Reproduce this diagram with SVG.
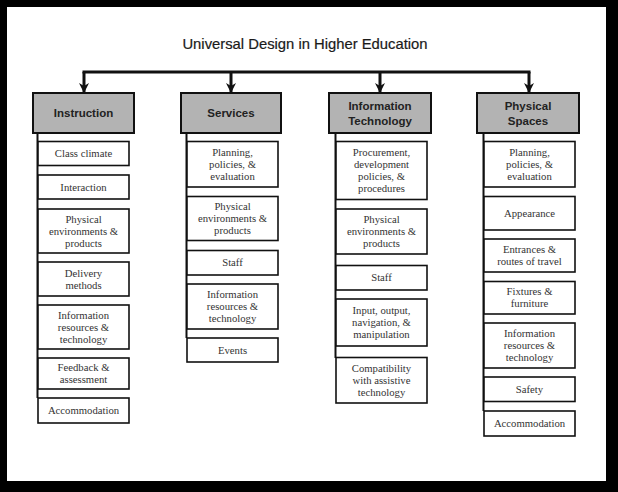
<svg xmlns="http://www.w3.org/2000/svg" width="618" height="492" viewBox="0 0 618 492">
<defs>
<style>
.hdr rect{fill:#b3b3b3;stroke:#111;stroke-width:2}
.hdr text{font-family:"Liberation Sans",Arial,sans-serif;font-weight:bold;font-size:11.5px;fill:#222;text-anchor:middle}
.box rect{fill:#fff;stroke:#111;stroke-width:1.6}
.box text{font-family:"Liberation Serif","Times New Roman",serif;font-size:10.7px;fill:#333;text-anchor:middle}
.conn{stroke:#111;fill:none}
.title{font-family:"Liberation Sans",Arial,sans-serif;font-size:14.8px;fill:#1a1a1a;text-anchor:middle;stroke:#1a1a1a;stroke-width:0.2}
</style>
<marker id="arr" viewBox="0 0 12 12" refX="11" refY="6" markerWidth="12" markerHeight="12" markerUnits="userSpaceOnUse" orient="auto">
<path d="M1,1 L11,6 L1,11 L4,6 z" fill="#111"/>
</marker>
</defs>
<rect x="0" y="0" width="618" height="492" fill="#000"/>
<rect x="7" y="7" width="599" height="474" fill="#fff"/>
<text class="title" x="305" y="49">Universal Design in Higher Education</text>

<g id="connectors">
<path class="conn" stroke-width="3" stroke-linecap="square" d="M84,72 H529"/>
<line class="conn" stroke-width="3" x1="84" y1="72" x2="84" y2="93" marker-end="url(#arr)"/>
<line class="conn" stroke-width="3" x1="231" y1="72" x2="231" y2="93" marker-end="url(#arr)"/>
<line class="conn" stroke-width="3" x1="380" y1="72" x2="380" y2="93" marker-end="url(#arr)"/>
<line class="conn" stroke-width="3" x1="529" y1="72" x2="529" y2="93" marker-end="url(#arr)"/>
<line class="conn" stroke-width="2" x1="37.5" y1="133" x2="37.5" y2="398"/>
<line class="conn" stroke-width="2" x1="186.5" y1="133" x2="186.5" y2="338"/>
<line class="conn" stroke-width="2" x1="335.5" y1="133" x2="335.5" y2="358"/>
<line class="conn" stroke-width="2" x1="483.5" y1="133" x2="483.5" y2="411"/>
</g>

<g id="instruction" class="hdr"><rect x="33" y="93" width="101" height="40"/><text x="83.5" y="117">Instruction</text></g>
<g id="services" class="hdr"><rect x="181" y="93" width="100" height="40"/><text x="231" y="117">Services</text></g>
<g id="information-technology" class="hdr"><rect x="329" y="93" width="102" height="40"/><text x="380" y="110">Information</text><text x="380" y="125">Technology</text></g>
<g id="physical-spaces" class="hdr"><rect x="477" y="93" width="102" height="40"/><text x="528" y="110">Physical</text><text x="528" y="125">Spaces</text></g>

<g id="i-class-climate" class="box"><rect x="38" y="141.5" width="91" height="24"/><text x="83.5" y="157">Class climate</text></g>
<g id="i-interaction" class="box"><rect x="38" y="175" width="91" height="24"/><text x="83.5" y="190.5">Interaction</text></g>
<g id="i-physical" class="box"><rect x="38" y="209" width="91" height="44"/><text x="83.5" y="222.5">Physical</text><text x="83.5" y="234.5">environments &amp;</text><text x="83.5" y="246.5">products</text></g>
<g id="i-delivery" class="box"><rect x="38" y="262" width="91" height="34"/><text x="83.5" y="276.5">Delivery</text><text x="83.5" y="288.5">methods</text></g>
<g id="i-info" class="box"><rect x="38" y="305" width="91" height="44"/><text x="83.5" y="318.5">Information</text><text x="83.5" y="330.5">resources &amp;</text><text x="83.5" y="342.5">technology</text></g>
<g id="i-feedback" class="box"><rect x="38" y="358" width="91" height="31"/><text x="83.5" y="371">Feedback &amp;</text><text x="83.5" y="383">assessment</text></g>
<g id="i-accommodation" class="box"><rect x="38" y="398" width="91" height="25"/><text x="83.5" y="414">Accommodation</text></g>

<g id="s-planning" class="box"><rect x="187" y="141.5" width="91" height="45.5"/><text x="232.5" y="155.8">Planning,</text><text x="232.5" y="167.8">policies, &amp;</text><text x="232.5" y="179.8">evaluation</text></g>
<g id="s-physical" class="box"><rect x="187" y="196.5" width="91" height="44"/><text x="232.5" y="210">Physical</text><text x="232.5" y="222">environments &amp;</text><text x="232.5" y="234">products</text></g>
<g id="s-staff" class="box"><rect x="187" y="250.5" width="91" height="24.5"/><text x="232.5" y="266.3">Staff</text></g>
<g id="s-info" class="box"><rect x="187" y="284" width="91" height="45"/><text x="232.5" y="298">Information</text><text x="232.5" y="310">resources &amp;</text><text x="232.5" y="322">technology</text></g>
<g id="s-events" class="box"><rect x="187" y="338" width="91" height="24"/><text x="232.5" y="353.5">Events</text></g>

<g id="t-procurement" class="box"><rect x="336" y="141.5" width="91" height="58"/><text x="381.5" y="156">Procurement,</text><text x="381.5" y="168">development</text><text x="381.5" y="180">policies, &amp;</text><text x="381.5" y="192">procedures</text></g>
<g id="t-physical" class="box"><rect x="336" y="209" width="91" height="45"/><text x="381.5" y="223">Physical</text><text x="381.5" y="235">environments &amp;</text><text x="381.5" y="247">products</text></g>
<g id="t-staff" class="box"><rect x="336" y="265.5" width="91" height="24.5"/><text x="381.5" y="281.3">Staff</text></g>
<g id="t-input" class="box"><rect x="336" y="299" width="91" height="47"/><text x="381.5" y="314">Input, output,</text><text x="381.5" y="326">navigation, &amp;</text><text x="381.5" y="338">manipulation</text></g>
<g id="t-compat" class="box"><rect x="336" y="357.5" width="91" height="45.5"/><text x="381.5" y="371.8">Compatibility</text><text x="381.5" y="383.8">with assistive</text><text x="381.5" y="395.8">technology</text></g>

<g id="p-planning" class="box"><rect x="484" y="141.5" width="91" height="45.5"/><text x="529.5" y="155.8">Planning,</text><text x="529.5" y="167.8">policies, &amp;</text><text x="529.5" y="179.8">evaluation</text></g>
<g id="p-appearance" class="box"><rect x="484" y="196.5" width="91" height="33.5"/><text x="529.5" y="216.8">Appearance</text></g>
<g id="p-entrances" class="box"><rect x="484" y="239" width="91" height="33"/><text x="529.5" y="253">Entrances &amp;</text><text x="529.5" y="265">routes of travel</text></g>
<g id="p-fixtures" class="box"><rect x="484" y="281.5" width="91" height="32.5"/><text x="529.5" y="295.3">Fixtures &amp;</text><text x="529.5" y="307.3">furniture</text></g>
<g id="p-info" class="box"><rect x="484" y="323" width="91" height="45"/><text x="529.5" y="337">Information</text><text x="529.5" y="349">resources &amp;</text><text x="529.5" y="361">technology</text></g>
<g id="p-safety" class="box"><rect x="484" y="377" width="91" height="24.5"/><text x="529.5" y="392.8">Safety</text></g>
<g id="p-accommodation" class="box"><rect x="484" y="411" width="91" height="25"/><text x="529.5" y="427">Accommodation</text></g>
</svg>
